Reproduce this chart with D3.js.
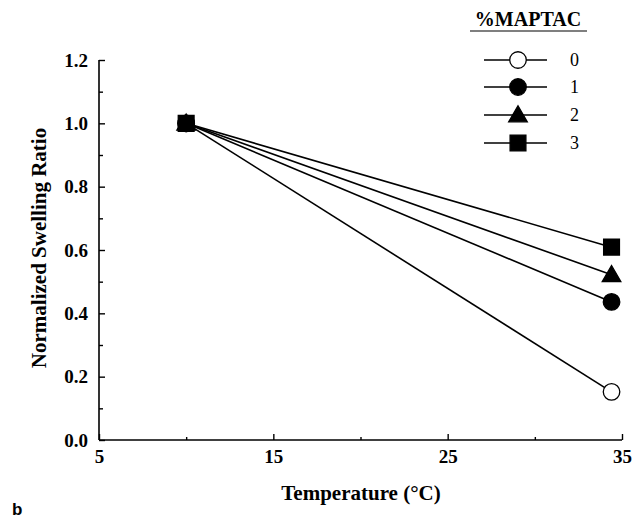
<!DOCTYPE html>
<html>
<head>
<meta charset="utf-8">
<script src="https://cdn.jsdelivr.net/npm/d3@7"></script>
<style>
  body { margin: 0; background: #fff; }
  svg { display: block; }
</style>
</head>
<body>
<div id="chart"></div>
<script>
// data
let temps = [10, 34.4];
let maptac = ["0", "1", "2", "3"];
let ratio0 = [1.0, 0.152];
let ratio1 = [1.0, 0.436];
let ratio2 = [1.0, 0.522];
let ratio3 = [1.0, 0.609];
let xTicks = [5, 15, 25, 35];
let yTicks = [0.0, 0.2, 0.4, 0.6, 0.8, 1.0, 1.2];

let series = [
    {name: maptac[0], values: ratio0, sym: "circle", fill: "#fff"},
    {name: maptac[1], values: ratio1, sym: "circle", fill: "#000"},
    {name: maptac[2], values: ratio2, sym: "triangle", fill: "#000"},
    {name: maptac[3], values: ratio3, sym: "square", fill: "#000"}
];

let width = 644, height = 523;
let margin = {top: 60, right: 22, bottom: 83, left: 99};
let serif = "Liberation Serif, serif";

let svg = d3.select("#chart").append("svg")
    .attr("width", width)
    .attr("height", height);

let g = svg.append("g")
    .attr("transform", "translate(" + margin.left + "," + margin.top + ")");

let w = width - margin.left - margin.right;
let h = height - margin.top - margin.bottom;

let x = d3.scaleLinear().domain([5, 35]).range([0, w]);
let y = d3.scaleLinear().domain([0, 1.2]).range([h, 0]);

// minor ticks first
g.append("g")
    .attr("transform", "translate(0," + h + ")")
    .call(d3.axisTop(x).tickValues([10, 20, 30]).tickSize(3).tickFormat(""))
    .call(a => a.select(".domain").remove());
g.append("g")
    .call(d3.axisRight(y).tickValues([0.1, 0.3, 0.5, 0.7, 0.9, 1.1]).tickSize(4).tickFormat(""))
    .call(a => a.select(".domain").remove());

// major ticks (inward)
let xAxis = g.append("g")
    .attr("transform", "translate(0," + h + ")")
    .call(d3.axisTop(x).tickValues(xTicks).tickSize(6).tickFormat(""));
xAxis.select(".domain").attr("d", "M0,0H" + w).attr("stroke-width", 1.6);

let yAxis = g.append("g")
    .call(d3.axisRight(y).tickValues(yTicks).tickSize(6).tickFormat(""));
yAxis.select(".domain").attr("d", "M0,0V" + h).attr("stroke-width", 1.6);
g.selectAll(".tick line").attr("stroke-width", 1.4);

// tick labels
let xLab = g.append("g")
    .attr("transform", "translate(0," + h + ")")
    .call(d3.axisBottom(x).tickValues(xTicks).tickSize(0).tickPadding(10).tickFormat(d3.format("d")));
let yLab = g.append("g")
    .call(d3.axisLeft(y).tickValues(yTicks).tickSize(0).tickPadding(11).tickFormat(d3.format(".1f")));
[xLab, yLab].forEach(a => {
    a.select(".domain").remove();
    a.attr("font-family", serif).attr("font-size", 19).attr("font-weight", "bold");
});

// axis titles
svg.append("text")
    .attr("x", 361)
    .attr("y", 500)
    .attr("text-anchor", "middle")
    .style("font-family", serif)
    .style("font-weight", "bold")
    .style("font-size", "21px")
    .text("Temperature (°C)");

svg.append("text")
    .attr("transform", "translate(46,248) rotate(-90)")
    .attr("text-anchor", "middle")
    .style("font-family", serif)
    .style("font-weight", "bold")
    .style("font-size", "21px")
    .text("Normalized Swelling Ratio");

svg.append("text")
    .attr("x", 12)
    .attr("y", 515)
    .style("font-family", "Liberation Sans, Arial, sans-serif")
    .style("font-weight", "bold")
    .style("font-size", "17px")
    .text("b");

// symbols
let symType = {circle: d3.symbolCircle, triangle: d3.symbolTriangle, square: d3.symbolSquare};
let symSize = {circle: 215, triangle: 150, square: 250};
function drawSymbol(sel, s) {
    sel.append("path")
        .attr("d", d3.symbol().type(symType[s.sym]).size(symSize[s.sym]))
        .attr("transform", s.sym === "triangle" ? "translate(0,1.5)" : null)
        .attr("fill", s.fill)
        .attr("stroke", "#000")
        .attr("stroke-width", 1.3);
}

let line = d3.line()
    .x((d, i) => x(temps[i]))
    .y(d => y(d));

series.forEach(s => {
    g.append("path")
        .datum(s.values)
        .attr("d", line)
        .attr("fill", "none")
        .attr("stroke", "#000")
        .attr("stroke-width", 1.6);
});

series.forEach(s => {
    s.values.forEach((v, i) => {
        let m = g.append("g")
            .attr("transform", "translate(" + x(temps[i]) + "," + y(v) + ")");
        drawSymbol(m, s);
    });
});

// legend
let legend = svg.append("g").attr("transform", "translate(484,0)");
legend.append("text")
    .attr("x", 44)
    .attr("y", 26)
    .attr("text-anchor", "middle")
    .style("font-family", serif)
    .style("font-weight", "bold")
    .style("font-size", "20px")
    .text("%MAPTAC");
legend.append("line")
    .attr("x1", -14).attr("x2", 103)
    .attr("y1", 31).attr("y2", 31)
    .attr("stroke", "#000").attr("stroke-width", 1.2);

let rowY = [60, 87, 115, 143];
series.forEach((s, i) => {
    let row = legend.append("g").attr("transform", "translate(0," + rowY[i] + ")");
    row.append("line")
        .attr("x1", 0).attr("x2", 63)
        .attr("stroke", "#000").attr("stroke-width", 1.6);
    let m = row.append("g").attr("transform", "translate(34,0)");
    drawSymbol(m, s);
    row.append("text")
        .attr("x", 86)
        .attr("y", 6)
        .style("font-family", serif)
        .style("font-size", "18px")
        .text(s.name);
});
</script>
</body>
</html>
